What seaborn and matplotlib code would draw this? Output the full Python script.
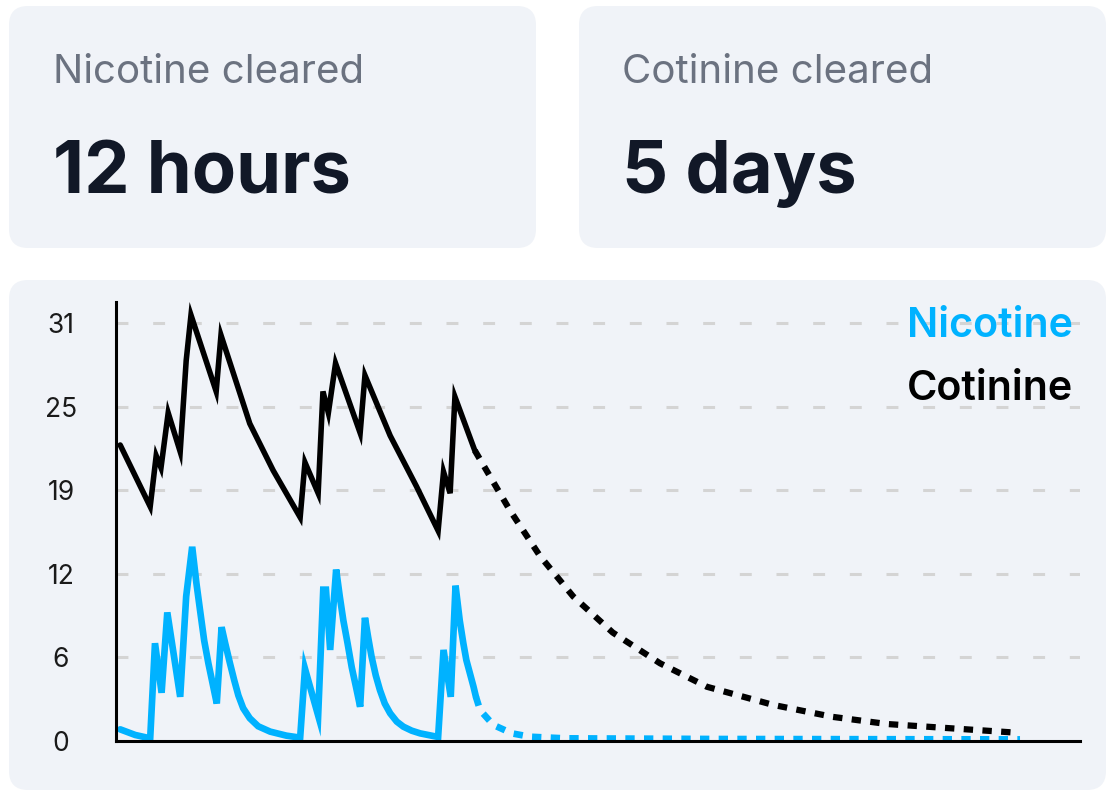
import matplotlib
matplotlib.use("Agg")
import matplotlib.pyplot as plt
from matplotlib.patches import FancyBboxPatch
from matplotlib.transforms import IdentityTransform
import seaborn as sns

# readings, x in hours, y in ng/mL-ish units
nic_hours = [0.7, 3.2, 5.7, 6.5, 7.6, 8.55, 10.7, 11.7, 12.7, 13.4, 14.0, 14.7,
             15.4, 16.1, 16.8, 17.6, 18.2, 19.0, 19.7, 20.4, 21.2, 22.3, 23.7,
             25.7, 28.4, 30.7, 31.5, 33.7, 34.55, 35.0, 35.7, 36.7, 37.3, 37.9,
             38.6, 39.3, 40.0, 40.7, 41.5, 42.05, 42.6, 43.3, 44.0, 44.8, 45.7,
             46.8, 47.9, 49.3, 50.7, 53.7, 54.6, 55.8, 56.6, 57.3, 57.9, 58.4,
             59.0, 59.6, 60.0]
nic_level = [0.87, 0.45, 0.2, 7.3, 3.6, 9.6, 3.3, 10.8, 14.5, 11.8, 9.8, 7.5,
             5.8, 4.3, 2.8, 8.5, 7.3, 5.8, 4.55, 3.4, 2.45, 1.7, 1.1,
             0.7, 0.4, 0.25, 5.4, 1.9, 11.3, 11.3, 6.8, 12.8, 10.8, 9.0,
             7.3, 5.5, 4.05, 2.56, 9.2, 7.7, 6.3, 4.9, 3.8, 2.8, 2.07,
             1.45, 1.07, 0.77, 0.57, 0.3, 6.8, 3.3, 11.6, 9.0, 7.3, 6.05,
             5.05, 4.05, 3.3]
nic_tail_hours = [60.0, 60.7, 62.9, 66.0, 69.0, 74.8, 100.0, 150.7]
nic_tail_level = [3.3, 2.3, 1.2, 0.57, 0.32, 0.2, 0.15, 0.12]

cot_hours = [0.7, 5.7, 6.7, 7.5, 8.7, 10.7, 11.7, 12.5, 16.7, 17.5, 22.3, 26.2,
             30.7, 31.5, 33.7, 34.5, 35.4, 36.6, 40.7, 41.5, 45.7, 50.1, 53.7,
             54.6, 55.7, 56.5, 59.8]
cot_level = [22.1, 17.5, 21.3, 20.4, 24.5, 21.6, 28.4, 31.8, 26.1, 30.3, 23.7, 20.2,
             16.7, 20.8, 18.5, 26.1, 24.5, 28.2, 23.0, 27.3, 22.8, 19.0, 15.7,
             20.1, 18.5, 25.7, 21.7]
cot_tail_hours = [59.8, 65.7, 70.7, 76.2, 82.8, 90.7, 98.5, 109.5, 119.5, 128.5, 150.1]
cot_tail_level = [21.7, 17.2, 13.8, 10.8, 8.1, 5.8, 4.05, 2.7, 1.8, 1.27, 0.62]

ytick_pos = [0, 6.24, 12.48, 18.72, 24.96, 31.2]
ytick_labels = ["0", "6", "12", "19", "25", "31"]

cards = [("Nicotine cleared", "12 hours"), ("Cotinine cleared", "5 days")]

BLUE = "#00b2ff"
CARD = "#f0f3f8"
W, H = 1114, 798

sns.set_theme(style="white")
plt.rcParams["font.family"] = ["Inter", "DejaVu Sans"]

fig = plt.figure(figsize=(W / 100, H / 100), dpi=100)
fig.patch.set_facecolor("white")


def card(x0, y0, x1, y1):
    # pixel coords measured from top-left
    p = FancyBboxPatch((x0, H - y1), x1 - x0, y1 - y0,
                       boxstyle="round,pad=0,rounding_size=19",
                       transform=IdentityTransform(), facecolor=CARD,
                       edgecolor="none", zorder=-5)
    fig.patches.append(p)


card(9, 6, 536, 248)
card(579, 6, 1106, 248)
card(9, 280, 1106, 790)

for (label, value), x in zip(cards, [53, 622]):
    fig.text(x, H - 82.7, label, transform=IdentityTransform(), fontsize=29,
             color="#6b7280", va="baseline", ha="left")
    fig.text(x, H - 193, value, transform=IdentityTransform(), fontsize=52,
             fontweight="bold", color="#111827", va="baseline", ha="left")

ax = fig.add_axes([116 / W, 57 / H, (1080 - 116) / W, (741 - 301.7) / H])
ax.set_facecolor("none")

sns.lineplot(x=cot_hours, y=cot_level, ax=ax, color="black", linewidth=4.0,
             sort=False, estimator=None, solid_joinstyle="miter")
sns.lineplot(x=cot_tail_hours, y=cot_tail_level, ax=ax, color="black",
             linewidth=4.5, linestyle=(0, (1.5, 1.5)), sort=False, estimator=None)
sns.lineplot(x=nic_hours, y=nic_level, ax=ax, color=BLUE, linewidth=4.8,
             sort=False, estimator=None, solid_joinstyle="miter")
sns.lineplot(x=nic_tail_hours, y=nic_tail_level, ax=ax, color=BLUE,
             linewidth=4.8, linestyle=(0, (1.4, 1.4)), sort=False, estimator=None)

ax.set_xlim(0, 160.7)
ax.set_ylim(0, 32.8)
ax.set_xticks([])
ax.set_yticks(ytick_pos)
ax.set_yticklabels(ytick_labels)
ax.tick_params(axis="y", length=0, pad=39.6, labelsize=19, labelcolor="#1a1a1a")
for lab in ax.get_yticklabels():
    lab.set_horizontalalignment("center")
ax.yaxis.grid(True, color="#d4d4d4", linestyle=(0, (3.9, 8.1)), linewidth=2.2)
ax.set_axisbelow(True)
for side in ["top", "right"]:
    ax.spines[side].set_visible(False)
for side in ["left", "bottom"]:
    ax.spines[side].set_color("black")
    ax.spines[side].set_linewidth(2.2)
ax.set_xlabel("")
ax.set_ylabel("")

fig.text(1073, H - 337, "Nicotine", transform=IdentityTransform(), fontsize=29.7,
         fontweight="semibold", color=BLUE, ha="right", va="baseline")
fig.text(1073, H - 400, "Cotinine", transform=IdentityTransform(), fontsize=29.7,
         fontweight="semibold", color="black", ha="right", va="baseline")

fig.savefig("out.png", dpi=100)
